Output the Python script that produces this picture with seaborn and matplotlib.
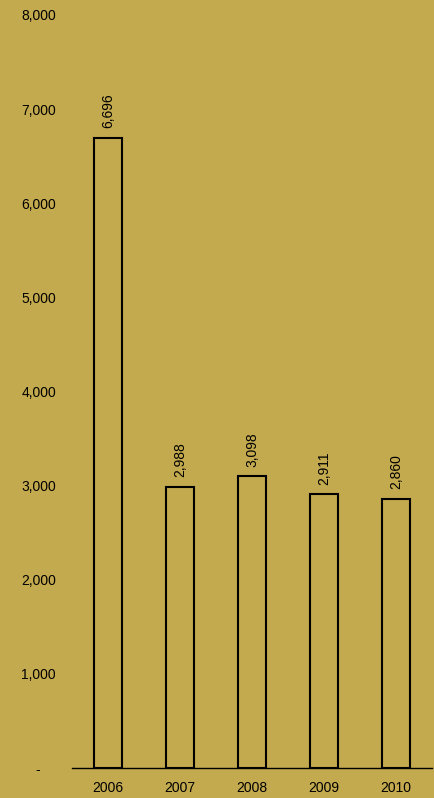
import matplotlib
matplotlib.use("Agg")
import matplotlib.pyplot as plt
import seaborn as sns
import pandas as pd

years = ["2006", "2007", "2008", "2009", "2010"]
values = [6696, 2988, 3098, 2911, 2860]
y_ticks = [0, 1000, 2000, 3000, 4000, 5000, 6000, 7000, 8000]
y_tick_labels = ["-    ", "1,000", "2,000", "3,000", "4,000", "5,000", "6,000", "7,000", "8,000"]

bg = "#C4AA4E"
sns.set_theme(style="white")
plt.rcParams["font.family"] = ["Liberation Sans", "DejaVu Sans"]

df = pd.DataFrame({"year": years, "value": values})

fig = plt.figure(figsize=(4.34, 7.98), dpi=100, facecolor=bg)
ax = fig.add_axes([72 / 434, 30 / 798, 360 / 434, 753 / 798])
ax.set_facecolor(bg)

sns.barplot(data=df, x="year", y="value", ax=ax, width=0.4,
            facecolor=bg, edgecolor="black", linewidth=1.5)

for i, v in enumerate(values):
    ax.text(i, v + 100, f"{v:,}", rotation=90, ha="center", va="bottom",
            fontsize=10, color="black")

ax.set_xlim(-0.5, 4.5)
ax.set_ylim(0, 8000)
ax.set_yticks(y_ticks)
ax.set_yticklabels(y_tick_labels)
ax.tick_params(axis="both", length=0, labelsize=10, colors="black")
ax.tick_params(axis="y", pad=11.5)
ax.tick_params(axis="x", pad=9)
ax.set_xlabel("")
ax.set_ylabel("")
for s in ["top", "right", "left"]:
    ax.spines[s].set_visible(False)
ax.spines["bottom"].set_color("black")
ax.spines["bottom"].set_linewidth(1.0)

fig.savefig("out.png", dpi=100, facecolor=bg)
